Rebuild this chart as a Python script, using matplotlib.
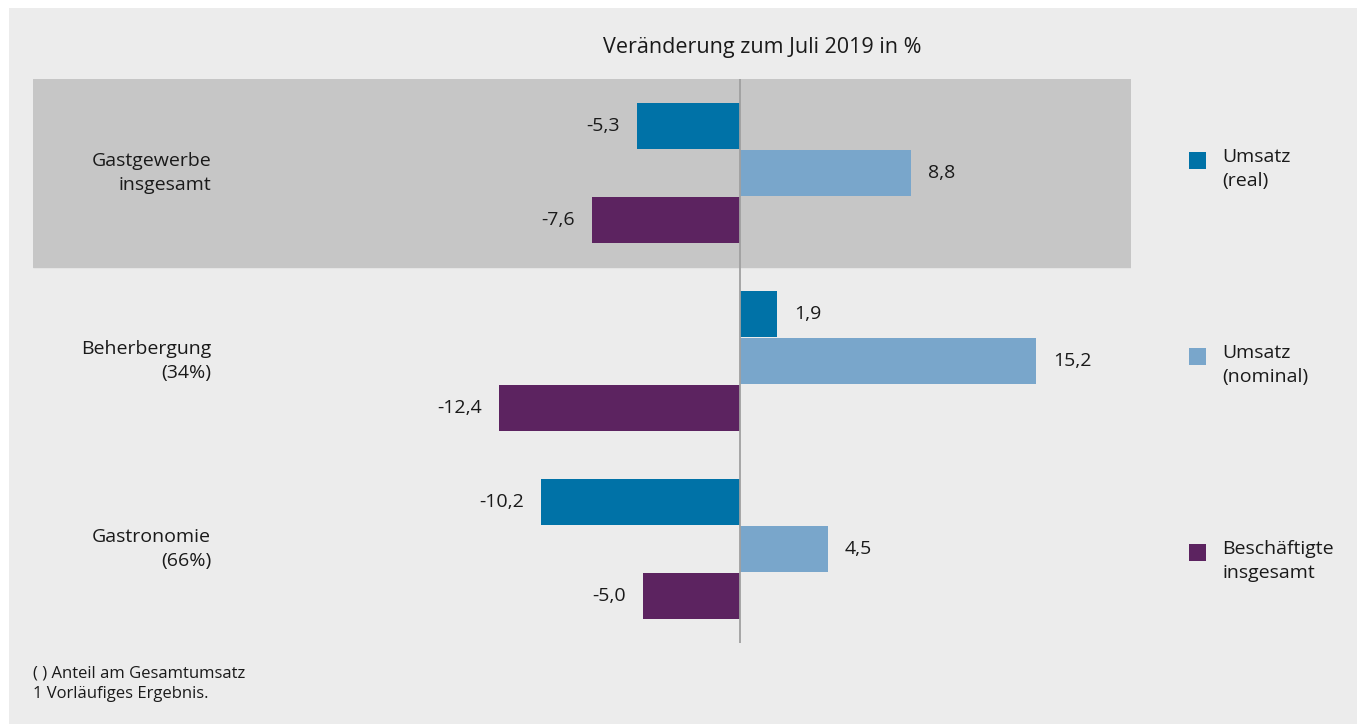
import matplotlib

matplotlib.use("Agg")
import matplotlib.pyplot as plt
from matplotlib.patches import Rectangle
from matplotlib.transforms import blended_transform_factory

plt.rcParams["font.family"] = ["Open Sans", "DejaVu Sans"]

groups = ["Gastgewerbe\ninsgesamt", "Beherbergung\n(34%)", "Gastronomie\n(66%)"]
series = ["Umsatz\n(real)", "Umsatz\n(nominal)", "Beschäftigte\ninsgesamt"]
umsatz_real = [-5.3, 1.9, -10.2]
umsatz_nominal = [8.8, 15.2, 4.5]
beschaeftigte = [-7.6, -12.4, -5.0]
values = [umsatz_real, umsatz_nominal, beschaeftigte]
colors = ["#0072a7", "#79a6cb", "#5c2360"]

title = "Veränderung zum Juli 2019 in %"
notes = "( ) Anteil am Gesamtumsatz\n1 Vorläufiges Ergebnis."

W, H = 1357, 724
TXT = "#1a1a1a"
FS = 14

fig = plt.figure(figsize=(W / 100, H / 100), dpi=100)
fig.patch.set_facecolor("white")
fig.add_artist(Rectangle((9 / W, 0), 1 - 9 / W, 1 - 8 / H, transform=fig.transFigure,
                         facecolor="#ececec", edgecolor="none", zorder=-10))


def px(x, y):
    return x / W, 1 - y / H


# axes: x from 33 to 1131 px, y from 79 to 643 px (12 slots of 47 px)
ax = fig.add_axes([33 / W, 1 - 643 / H, 1098 / W, 564 / H])
ax.set_facecolor("none")
scale = 19.47
ax.set_xlim((33 - 740) / scale, (1131 - 740) / scale)
ax.set_ylim(11, -1)
ax.axis("off")

ax.axhspan(-1, 3, color="#c6c6c6", zorder=0)
ax.axvline(0, color="#a0a0a0", lw=1.3, zorder=3)

for g in range(len(groups)):
    for s in range(len(series)):
        v = values[s][g]
        y = g * 4 + s
        ax.barh(y, v, height=0.98, color=colors[s], edgecolor="none", zorder=2)
        lbl = f"{v:.1f}".replace(".", ",")
        off = 17 if v >= 0 else -17
        ax.annotate(lbl, (v, y), xytext=(off, 0), textcoords="offset pixels",
                    ha="left" if v >= 0 else "right", va="center",
                    fontsize=FS, color=TXT)

trans = blended_transform_factory(fig.transFigure, ax.transData)
for g, name in enumerate(groups):
    fig.text(211 / W, g * 4 + 1, name, transform=trans, ha="right", va="center",
             fontsize=FS, color=TXT, linespacing=1.4)

fig.text(*px(762, 47), title, ha="center", va="center", fontsize=15.5, color=TXT)

for i, (name, c) in enumerate(zip(series, colors)):
    top = 152 + i * 196
    fig.add_artist(Rectangle(px(1189, top + 17), 17 / W, 17 / H,
                             transform=fig.transFigure, facecolor=c, edgecolor="none"))
    fig.text(*px(1222, top - 4), name, ha="left", va="top", fontsize=FS,
             color=TXT, linespacing=1.4)

fig.text(*px(33, 666), notes, ha="left", va="top", fontsize=12, color=TXT,
         linespacing=1.3)

fig.savefig("out.png", dpi=100, facecolor=fig.get_facecolor())
